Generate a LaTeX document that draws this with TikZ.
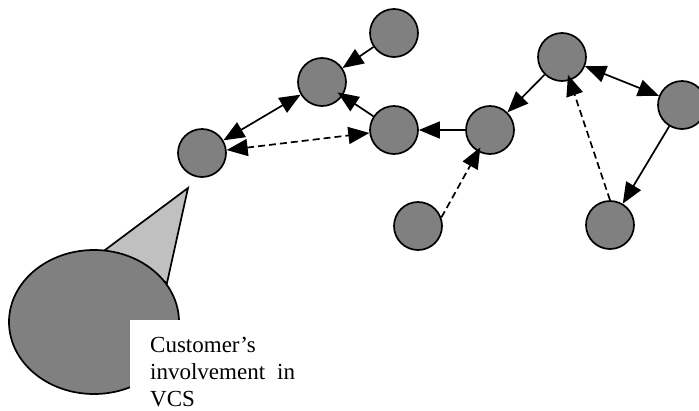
\documentclass[tikz,border=0pt]{standalone}
\usepackage{fontspec}
\setmainfont{Liberation Serif}
\usetikzlibrary{arrows.meta,shapes.geometric}
\definecolor{actorgray}{HTML}{808080}
\definecolor{conegray}{HTML}{C0C0C0}
\tikzset{
  head/.tip={Triangle[length=21pt,width=17pt]},
  actor/.style={circle, draw=black, fill=actorgray, line width=1.7pt, minimum size=48pt, inner sep=0pt},
  link/.style={line width=1.7pt, -head},
  twoway/.style={line width=1.7pt, head-head},
  weak/.style={dash pattern=on 7pt off 4pt}
}
\begin{document}
\begin{tikzpicture}[x=1pt,y=-1pt]
\useasboundingbox (0,0) rectangle (699,410);
\clip (0,0) rectangle (699,410);

% network of actors
\node[actor] (A) at (394,33) {};
\node[actor] (B) at (322,82) {};
\node[actor] (C) at (202,153) {};
\node[actor] (D) at (394,130) {};
\node[actor] (E) at (490,130) {};
\node[actor] (F) at (562,57) {};
\node[actor] (G) at (682,105) {};
\node[actor] (H) at (418,226) {};
\node[actor] (I) at (610,225) {};

% relations
\draw[link] (A) -- (B);
\draw[twoway] (C) -- (B);
\draw[link, shorten >=-6pt] (D) -- (B);
\draw[twoway, weak] (C) -- (D);
\draw[link] (E) -- (D);
\draw[link] (F) -- (E);
\draw[twoway] (F) -- (G);
\draw[link] (G) -- (I);
\draw[link, weak, shorten >=-6pt] (I.north) -- (F);
\draw[link, weak, shorten >=-5pt] (H.20) -- (E);

% customer bubble with its pointer
\coordinate (tip) at (188,188);
\coordinate (baseL) at (105,250);
\coordinate (baseR) at (167,283);
\draw[fill=conegray, line width=1.7pt, line join=miter] (baseL) -- (tip) -- (baseR) -- cycle;
\node[ellipse, draw=black, fill=actorgray, line width=1.7pt, minimum width=170pt, minimum height=144pt, inner sep=0pt] (cust) at (94,322) {};

% caption on a white panel
\node[fill=white, anchor=north west, inner xsep=20pt, inner ysep=16.5pt, text width=170pt, align=left,
      font=\fontsize{23}{27}\selectfont] (label) at (130,320)
  {Customer’s\\involvement\hspace{12pt}in\\VCS};
\end{tikzpicture}
\end{document}
